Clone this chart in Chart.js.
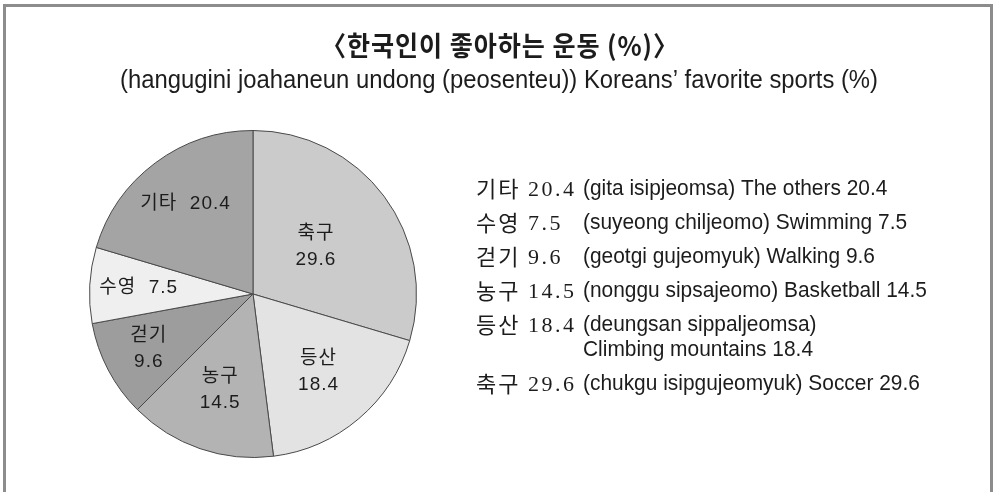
<!DOCTYPE html>
<html>
<head>
<meta charset="utf-8">
<script src="https://cdn.jsdelivr.net/npm/chart.js@4.4.1/dist/chart.umd.min.js"></script>
<style>
	html, body { margin: 0; padding: 0; background: #fff; }
	#chartSports { display: block; }
</style>
</head>
<body>
<canvas id="chartSports" width="994" height="492"></canvas>
<script>
// slices run clockwise from 12 o'clock
var sportNames = ['축구', '등산', '농구', '걷기', '수영', '기타'];
var sportShares = [29.6, 18.4, 14.5, 9.6, 7.5, 20.4];
var sportRomanized = ['chukgu isipgujeomyuk', 'deungsan sippaljeomsa', 'nonggu sipsajeomo', 'geotgi gujeomyuk', 'suyeong chiljeomo', 'gita isipjeomsa'];
var sportNamesEn = ['Soccer', 'Climbing mountains', 'Basketball', 'Walking', 'Swimming', 'The others'];
var titleText = '〈한국인이 좋아하는 운동 (%)〉';
var subtitleText = '(hangugini joahaneun undong (peosenteu)) Koreans’ favorite sports (%)';

var sliceColors = ['#cbcbcb', '#e3e3e3', '#b3b3b3', '#9d9d9d', '#efefef', '#a4a4a4'];
// label spot inside each slice (fraction of radius) and whether name + value share a line
var labelSpots = [
	{ r: 0.48, oneLine: false },
	{ r: 0.62, oneLine: false },
	{ r: 0.62, oneLine: false },
	{ r: 0.72, oneLine: false },
	{ r: 0.70, oneLine: true },
	{ r: 0.69, oneLine: true }
];

var inkColor = '#1c1c1c';

function fmt(v) {
	return v.toFixed(1);
}

// draws text squeezed horizontally by sx
function drawCondensed(ctx, text, x, y, sx) {
	ctx.save();
	ctx.translate(x, y);
	ctx.scale(sx, 1);
	ctx.fillText(text, 0, 0);
	ctx.restore();
}

var sportsText = {
	id: 'sportsText',
	beforeDraw: function (chart) {
		var ctx = chart.ctx;
		ctx.save();
		ctx.fillStyle = '#fff';
		ctx.fillRect(0, 0, chart.width, chart.height);
		ctx.strokeStyle = '#8c8c8c';
		ctx.lineWidth = 3;
		ctx.strokeRect(4.5, 5.5, 987, 520);
		ctx.restore();
	},
	afterDraw: function (chart) {
		var ctx = chart.ctx;
		ctx.save();
		ctx.fillStyle = inkColor;
		ctx.textBaseline = 'middle';

		// heading
		ctx.textAlign = 'center';
		ctx.font = 'bold 27px "Noto Sans CJK KR"';
		ctx.letterSpacing = '1px';
		ctx.fillText(titleText, 500, 46, 358);
		ctx.letterSpacing = '0px';
		ctx.font = '25px "Liberation Sans", Arial, sans-serif';
		ctx.fillText(subtitleText, 499, 81, 758);

		// labels inside the slices
		ctx.font = '19px "Liberation Sans", "Noto Sans CJK KR", sans-serif';
		ctx.letterSpacing = '1px';
		var meta = chart.getDatasetMeta(0);
		meta.data.forEach(function (arc, i) {
			var p = arc.getProps(['x', 'y', 'startAngle', 'endAngle', 'outerRadius'], true);
			var mid = (p.startAngle + p.endAngle) / 2;
			var d = p.outerRadius * labelSpots[i].r;
			var x = p.x + Math.cos(mid) * d;
			var y = p.y + Math.sin(mid) * d;
			if (labelSpots[i].oneLine) {
				ctx.fillText(sportNames[i] + '  ' + fmt(sportShares[i]), x, y);
			} else {
				ctx.fillText(sportNames[i], x, y - 13);
				ctx.fillText(fmt(sportShares[i]), x, y + 13);
			}
		});
		ctx.letterSpacing = '0px';

		// key on the right, listed from the last slice back to the first
		ctx.textAlign = 'left';
		var y = 189;
		for (var k = sportNames.length - 1; k >= 0; k--) {
			ctx.font = '22px "Noto Sans CJK KR"';
			ctx.letterSpacing = '2px';
			ctx.fillText(sportNames[k], 476, y);
			ctx.font = '22px "Liberation Serif", serif';
			ctx.letterSpacing = '2.5px';
			ctx.fillText(fmt(sportShares[k]), 528, y + 1);
			ctx.letterSpacing = '0px';

			ctx.font = '22px "Liberation Sans", Arial, sans-serif';
			var head = '(' + sportRomanized[k] + ')';
			var tail = sportNamesEn[k] + ' ' + fmt(sportShares[k]);
			var full = head + ' ' + tail;
			if (ctx.measureText(full).width * 0.95 > 390) {
				drawCondensed(ctx, head, 583, y, 0.95);
				y += 25;
				drawCondensed(ctx, tail, 583, y, 0.95);
			} else {
				drawCondensed(ctx, full, 583, y, 0.95);
			}
			y += 34;
		}
		ctx.restore();
	}
};

new Chart(document.getElementById('chartSports'), {
	type: 'pie',
	data: {
		labels: sportNames,
		datasets: [{
			data: sportShares,
			backgroundColor: sliceColors,
			borderColor: '#4a4a4a',
			borderWidth: 1
		}]
	},
	options: {
		responsive: false,
		animation: false,
		devicePixelRatio: 1,
		layout: {
			padding: { left: 89, top: 130, right: 577, bottom: 34 }
		},
		plugins: {
			legend: { display: false },
			tooltip: { enabled: false },
			title: { display: false }
		}
	},
	plugins: [sportsText]
});
</script>
</body>
</html>
